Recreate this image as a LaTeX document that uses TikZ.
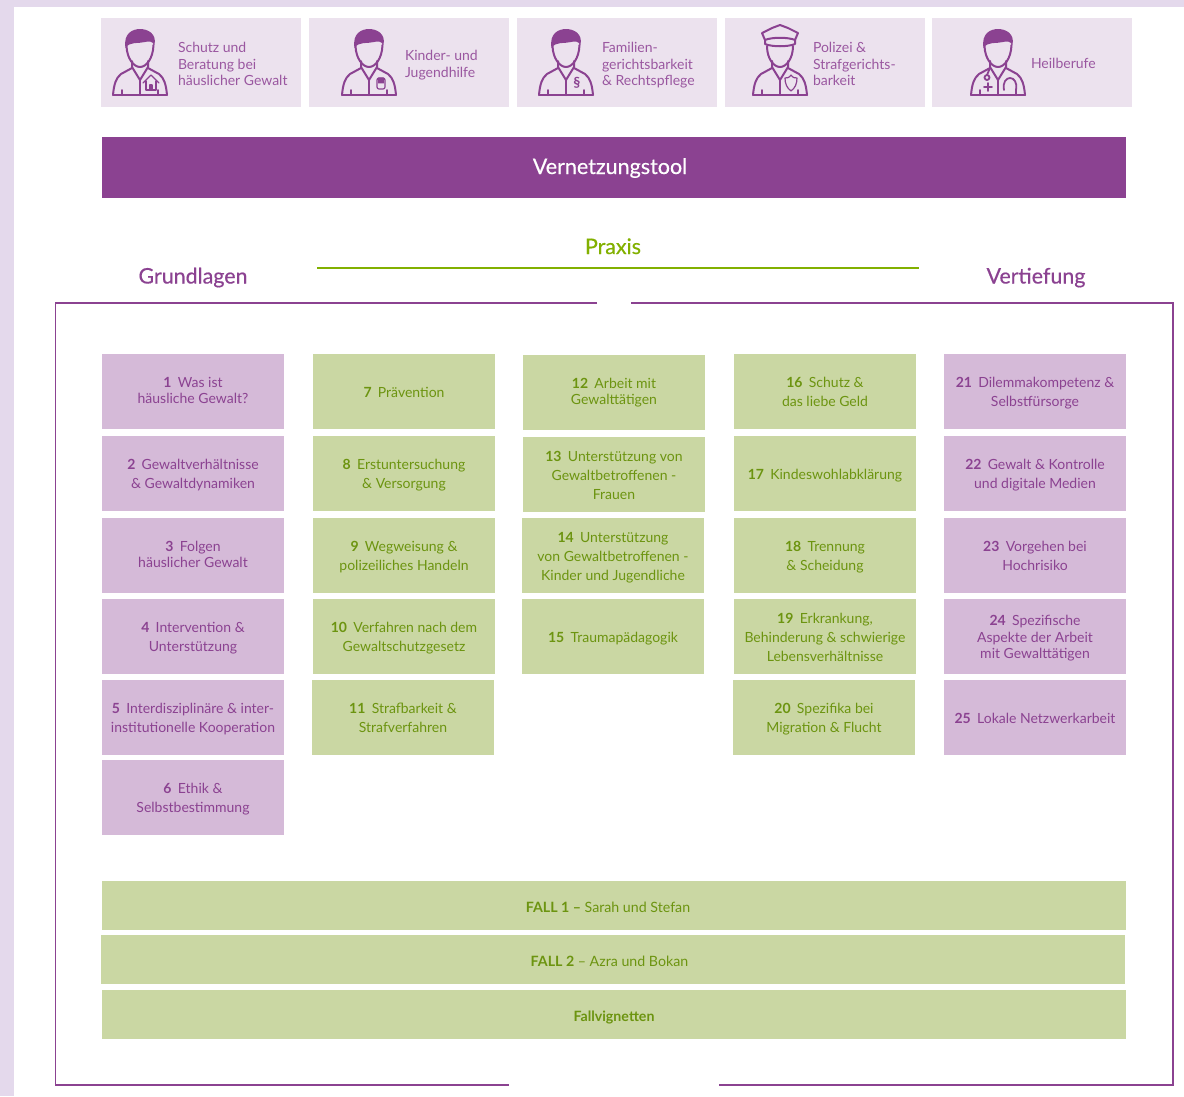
\documentclass[tikz,border=0pt]{standalone}
\usepackage{fontspec}
\setmainfont{Lato}
\newfontface\headfont[RawFeature={embolden=0.5}]{Lato}
\usetikzlibrary{positioning}
\definecolor{stripcol}{HTML}{E4D9EC}
\definecolor{rolefill}{HTML}{ECE2EE}
\definecolor{purplefill}{HTML}{D5BAD8}
\definecolor{greenfill}{HTML}{CAD7A3}
\definecolor{purplecol}{HTML}{8B4291}
\definecolor{roletext}{HTML}{9A57A0}
\definecolor{greentext}{HTML}{6C9410}
\definecolor{praxiscol}{HTML}{82B000}
\newcommand{\firstline}{\rule{0pt}{17pt}}
\newcommand{\nr}[1]{\firstline\textbf{#1}\hspace{0.45em}}
\newcommand{\personbody}{
\draw (-27,77) -- (27,77);
\draw (-27,77) .. controls (-26,66) and (-24,60) .. (-19,56) -- (-8,50);
\draw (27,77) .. controls (26,66) and (24,60) .. (19,56) -- (8,50);
\draw (-8,43) -- (-8,49) -- (0,62) -- (8,49) -- (8,43);
\draw (0,62) -- (0,77);
\draw (-18,72) -- (-18,77);
\draw (18,72) -- (18,77);
}
\tikzset{
every node/.style={inner sep=0pt,outer sep=0pt},
lastdepth/.style={execute at end node={\rule[-#1]{0pt}{#1}}},
rolebox/.style={fill=rolefill,minimum width=200pt,minimum height=89pt},
rolelabel/.style={anchor=west,align=left,text=roletext,font=\fontsize{14}{16.5}\selectfont,lastdepth=6pt},
purpletile/.style={fill=purplefill,text=purplecol,minimum width=182pt,minimum height=75pt,align=center,font=\fontsize{14}{19}\selectfont,lastdepth=6pt},
greentile/.style={fill=greenfill,text=greentext,minimum width=182pt,minimum height=75pt,align=center,font=\fontsize{14}{19}\selectfont,lastdepth=6pt},
tight/.style={font=\fontsize{14}{16.5}\selectfont},
raised/.style={lastdepth=9pt},
lowered/.style={lastdepth=3.2pt},
caseband/.style={fill=greenfill,text=greentext,minimum width=1024pt,minimum height=49pt,font=\fontsize{14.2}{16.5}\selectfont,lastdepth=6pt},
heading/.style={font=\fontsize{21.4}{25}\selectfont\headfont,lastdepth=8pt},
iconline/.style={draw=purplecol,line width=2pt,line cap=round,line join=round},
person/.pic={
\begin{scope}[iconline]
\fill[purplecol] (-14.5,30) .. controls (-17,15) and (-7,11) .. (0,11) .. controls (7,11) and (17,15) .. (14.5,27) .. controls (12,23) and (9,23) .. (5,24) .. controls (-2,26) and (-10,23) .. (-14.5,30);
\draw (-13.5,28) .. controls (-13,41) and (-6,49) .. (0,49) .. controls (6,49) and (13,41) .. (13.5,27);
\personbody
\end{scope}
},
policeperson/.pic={
\begin{scope}[iconline]
\draw (0,7) -- (-8,10) -- (-18,15) -- (-15,22) .. controls (-8,19) and (8,19) .. (15,22) -- (18,15) -- (8,10) -- cycle;
\draw (-15,22) -- (-15,26) .. controls (-8,29) and (8,29) .. (15,26) -- (15,22);
\draw (-13,28) .. controls (-13,41) and (-6,49) .. (0,49) .. controls (6,49) and (13,41) .. (13,28);
\personbody
\end{scope}
},
housebadge/.pic={
\begin{scope}[iconline,line width=1.2pt]
\draw (3,65) -- (11,57) -- (19,65);
\draw (6,63) -- (6,72) -- (16,72) -- (16,63);
\draw (10,72) -- (10,67) -- (12,67) -- (12,72);
\end{scope}
},
handbadge/.pic={
\begin{scope}[iconline,line width=1.2pt]
\draw[rounded corners=2pt] (8,60) -- (8,71) -- (16,71) -- (16,60) -- cycle;
\draw (10,60) -- (10,65);
\draw (12,60) -- (12,65);
\draw (14,60) -- (14,65);
\end{scope}
},
shieldbadge/.pic={
\begin{scope}[iconline,line width=1.2pt]
\draw (11,57) .. controls (9,60) and (7,60) .. (5,60) .. controls (5,66) and (7,70) .. (11,73) .. controls (15,70) and (17,66) .. (17,60) .. controls (15,60) and (13,60) .. (11,57);
\end{scope}
},
stethbadge/.pic={
\begin{scope}[iconline,line width=1.8pt]
\draw (-8,50) -- (-11,57);
\draw (-11,59.5) circle (2.5);
\draw (6,72) .. controls (3,56) and (21,56) .. (18,72);
\draw (-10,65) -- (-10,73);
\draw (-14,69) -- (-6,69);
\end{scope}
},
}
\begin{document}
\begin{tikzpicture}[x=1pt,y=-1pt]
\useasboundingbox (0,0) rectangle (1184,1096);
% page strips
\fill[stripcol] (0,0) rectangle (1184,7);
\fill[stripcol] (0,0) rectangle (14,1096);

% role boxes
\node[rolebox] (R1) at (201,62.5) {};
\node[rolebox] (R2) at (409,62.5) {};
\node[rolebox] (R3) at (617,62.5) {};
\node[rolebox] (R4) at (825,62.5) {};
\node[rolebox] (R5) at (1032,62.5) {};
\node[rolelabel] (L1) at (178,63.5) {\firstline Schutz und\\Beratung bei\\häuslicher Gewalt};
\node[rolelabel] (L2) at (405,63.5) {\firstline Kinder- und\\Jugendhilfe};
\node[rolelabel] (L3) at (602,63.5) {\firstline Familien-\\gerichtsbarkeit\\\& Rechtspflege};
\node[rolelabel] (L4) at (813,63.5) {\firstline Polizei \&\\Strafgerichts-\\barkeit};
\node[rolelabel] (L5) at (1031,62.5) {\firstline Heilberufe};
\pic at (140,18) {person};
\pic at (140,18) {housebadge};
\pic at (369,18) {person};
\pic at (369,18) {handbadge};
\pic at (566,18) {person};
\node[text=purplecol,font=\fontsize{14}{14}\selectfont\bfseries] (para) at (577,83) {\S};
\pic at (780,18) {policeperson};
\pic at (780,18) {shieldbadge};
\pic at (998,18) {person};
\pic at (998,18) {stethbadge};

% banner and headings
\node[fill=purplecol,text=white,minimum width=1024pt,minimum height=61pt,font=\fontsize{21.5}{25}\selectfont\headfont,lastdepth=8pt] (V) at (614,167.5) {\rule{0pt}{21pt}Vernetzungstool\hspace*{8pt}};
\node[heading,text=praxiscol] (P) at (613,246) {\rule{0pt}{24pt}Praxis};
\node[heading,text=purplecol] (G) at (193,275) {\rule{0pt}{25pt}Grundlagen};
\node[heading,text=purplecol] (T) at (1036,275) {\rule{0pt}{25pt}Vertiefung};
\draw[praxiscol,line width=1.6pt] (317,268) -- (919,268);
\draw[purplecol,line width=1.5pt] (597,303) -- (55.5,303) -- (55.5,1085) -- (509,1085);
\draw[purplecol,line width=1.5pt] (719,1085) -- (1173,1085) -- (1173,303) -- (631,303);

% Grundlagen
\node[purpletile,tight,raised] (A1) at (193,391.5) {\nr{1}Was ist\\häusliche Gewalt?};
\node[purpletile] (A2) at (193,473.5) {\nr{2}Gewaltverhältnisse\\\& Gewaltdynamiken};
\node[purpletile,tight,raised] (A3) at (193,555.5) {\nr{3}Folgen\\häuslicher Gewalt};
\node[purpletile] (A4) at (193,636.5) {\nr{4}Intervention \&\\Unterstützung};
\node[purpletile] (A5) at (193,717.5) {\nr{5}Interdisziplinäre \& inter-\\institutionelle Kooperation};
\node[purpletile] (A6) at (193,797.5) {\nr{6}Ethik \&\\Selbstbestimmung};

% Praxis
\node[greentile] (B7) at (404,391.5) {\nr{7}Prävention};
\node[greentile] (B8) at (404,473.5) {\nr{8}Erstuntersuchung\\\& Versorgung};
\node[greentile] (B9) at (404,555.5) {\nr{9}Wegweisung \&\\polizeiliches Handeln};
\node[greentile] (B10) at (404,636.5) {\nr{10}Verfahren nach dem\\Gewaltschutzgesetz};
\node[greentile] (B11) at (403,717.5) {\nr{11}Strafbarkeit \&\\Strafverfahren};
\node[greentile,tight,raised] (C12) at (614,392.5) {\nr{12}Arbeit mit\\Gewalttätigen};
\node[greentile,lowered] (C13) at (614,474.5) {\nr{13}Unterstützung von\\Gewaltbetroffenen -\\Frauen};
\node[greentile,lowered] (C14) at (613,555.5) {\nr{14}Unterstützung\\von Gewaltbetroffenen -\\Kinder und Jugendliche};
\node[greentile] (C15) at (613,636.5) {\nr{15}Traumapädagogik};
\node[greentile] (D16) at (825,391.5) {\nr{16}Schutz \&\\das liebe Geld};
\node[greentile] (D17) at (825,473.5) {\nr{17}Kindeswohlabklärung};
\node[greentile] (D18) at (825,555.5) {\nr{18}Trennung\\\& Scheidung};
\node[greentile,lowered] (D19) at (825,636.5) {\nr{19}Erkrankung,\\Behinderung \& schwierige\\Lebensverhältnisse};
\node[greentile] (D20) at (824,717.5) {\nr{20}Spezifika bei\\Migration \& Flucht};

% Vertiefung
\node[purpletile] (E21) at (1035,391.5) {\nr{21}Dilemmakompetenz \&\\Selbstfürsorge};
\node[purpletile] (E22) at (1035,473.5) {\nr{22}Gewalt \& Kontrolle\\und digitale Medien};
\node[purpletile] (E23) at (1035,555.5) {\nr{23}Vorgehen bei\\Hochrisiko};
\node[purpletile,tight] (E24) at (1035,636.5) {\nr{24}Spezifische\\Aspekte der Arbeit\\mit Gewalttätigen};
\node[purpletile] (E25) at (1035,717.5) {\nr{25}Lokale Netzwerkarbeit};

% Faelle
\node[caseband] (F1) at (614,905.5) {\rule{0pt}{19pt}\textbf{FALL 1 –} Sarah und Stefan\hspace*{12pt}};
\node[caseband] (F2) at (613,959.5) {\rule{0pt}{19pt}\textbf{FALL 2} – Azra und Bokan\hspace*{7pt}};
\node[caseband] (F3) at (614,1014.5) {\rule{0pt}{19pt}\textbf{Fallvignetten}};
\end{tikzpicture}
\end{document}
